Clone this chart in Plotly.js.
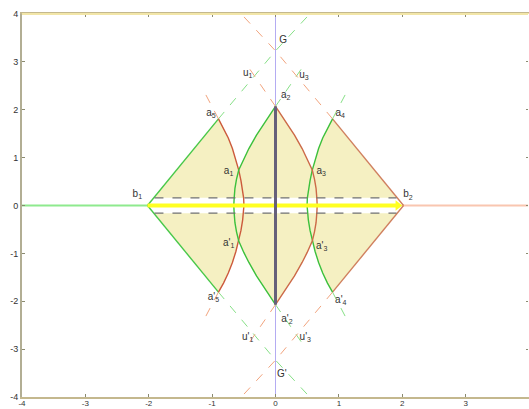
<!DOCTYPE html>
<html><head><meta charset="utf-8">
<script src="https://cdn.plot.ly/plotly-3.0.1.min.js"></script>
<style>html,body{margin:0;padding:0;background:#fff}#chart{width:529px;height:409px}</style>
</head><body><div id="chart"></div>
<script>
// ---- data ----
const bandY = 0.16;                 // half-height of the dashed band
const bandX = [-1.91, 1.91];        // dashed band extent

// left region, right edge (red arc), top to bottom
const arcLeftX = [-0.90,-0.82,-0.745,-0.68,-0.625,-0.58,-0.545,-0.518,-0.503,-0.498,-0.503,-0.518,-0.545,-0.58,-0.625,-0.68,-0.745,-0.82,-0.90];
const arcLeftY = [1.81,1.62,1.41,1.19,0.96,0.74,0.52,0.30,0.16,0,-0.16,-0.30,-0.52,-0.74,-0.96,-1.19,-1.41,-1.62,-1.81];
// right region, left edge (green arc)
const arcRightX = [0.90,0.82,0.745,0.68,0.625,0.58,0.545,0.518,0.503,0.498,0.503,0.518,0.545,0.58,0.625,0.68,0.745,0.82,0.90];
const arcRightY = [1.81,1.62,1.41,1.19,0.96,0.74,0.52,0.30,0.16,0,-0.16,-0.30,-0.52,-0.74,-0.96,-1.19,-1.41,-1.62,-1.81];
// middle region, left edge (green arc)
const arcMidLX = [0,-0.15,-0.30,-0.42,-0.50,-0.58,-0.615,-0.64,-0.652,-0.658,-0.652,-0.64,-0.615,-0.58,-0.50,-0.42,-0.30,-0.15,0];
const arcMidLY = [2.07,1.78,1.47,1.19,0.98,0.74,0.55,0.36,0.16,0,-0.16,-0.36,-0.55,-0.74,-0.98,-1.19,-1.47,-1.78,-2.07];
// middle region, right edge (red arc)
const arcMidRX = [0,0.15,0.30,0.42,0.50,0.58,0.615,0.64,0.652,0.658,0.652,0.64,0.615,0.58,0.50,0.42,0.30,0.15,0];
const arcMidRY = [2.07,1.78,1.47,1.19,0.98,0.74,0.55,0.36,0.16,0,-0.16,-0.36,-0.55,-0.74,-0.98,-1.19,-1.47,-1.78,-2.07];

// straight edges
const greenEdgeX = [-2.02,-0.90,null,-2.02,-0.90];
const greenEdgeY = [0,1.81,null,0,-1.81];
const redEdgeX = [2.02,0.90,null,2.02,0.90];
const redEdgeY = [0,1.81,null,0,-1.81];

// dashed construction lines
const greenDashX = [-0.90,0,0.54,null,-0.90,0,0.54,null,0,0.48,null,0,0.48,null,0.90,1.15,null,0.90,1.15];
const greenDashY = [1.81,3.23,4,null,-1.81,-3.23,-4,null,2.07,2.99,null,-2.07,-2.99,null,1.81,2.44,null,-1.81,-2.44];
const redDashX = [0.90,0,-0.54,null,0.90,0,-0.54,null,0,-0.48,null,0,-0.48,null,-0.90,-1.15,null,-0.90,-1.15];
const redDashY = [1.81,3.23,4,null,-1.81,-3.23,-4,null,2.07,2.99,null,-2.07,-2.99,null,1.81,2.44,null,-1.81,-2.44];

// axis lines
const axisGreenX = [-4,-2.02], axisGreenY = [0,0];
const axisRedX = [2.0,4], axisRedY = [0,0];
const beamX = [-2.02,1.93], beamY = [0,0];
const vertX = [0,0], vertY = [-4,4];
const thickX = [0,0], thickY = [-2.07,2.07];

// labels
const labelText = ['G','u<sub>1</sub>','u<sub>3</sub>','a<sub>2</sub>','a<sub>5</sub>','a<sub>4</sub>','a<sub>1</sub>','a<sub>3</sub>','b<sub>1</sub>','b<sub>2</sub>',
  "a'<sub>1</sub>","a'<sub>3</sub>","a'<sub>5</sub>","a'<sub>4</sub>","a'<sub>2</sub>","u'<sub>1</sub>","u'<sub>3</sub>","G'"];
const labelX = [0.12,-0.44,0.45,0.16,-1.02,1.02,-0.74,0.72,-2.18,2.09, -0.74,0.73,-0.98,1.03,0.18,-0.44,0.47,0.10];
const labelY = [3.45,2.76,2.72,2.30,1.92,1.92,0.71,0.72,0.24,0.22, -0.80,-0.86,-1.92,-1.98,-2.38,-2.76,-2.76,-3.52];

// ---- build fills from arcs ----
function part(xs, ys, upper){
  const px=[],py=[];
  for(let i=0;i<xs.length;i++){ if(upper ? ys[i]>=bandY-1e-9 : ys[i]<=-bandY+1e-9){px.push(xs[i]);py.push(ys[i]);} }
  return [px,py];
}
const fills=[];
[true,false].forEach(up=>{
  const s = up?1:-1;
  let [lx,ly]=part(arcLeftX,arcLeftY,up);
  fills.push({x:[bandX[0],...lx,bandX[0]], y:[s*bandY,...ly,s*bandY]});
  let [rx,ry]=part(arcRightX,arcRightY,up);
  fills.push({x:[bandX[1],...rx,bandX[1]], y:[s*bandY,...ry,s*bandY]});
  let [mlx,mly]=part(arcMidLX,arcMidLY,up);
  let [mrx,mry]=part(arcMidRX,arcMidRY,up);
  fills.push({x:[...mlx.slice().reverse(),...mrx], y:[...mly.slice().reverse(),...mry]});
});

const FILL='#f5f0c2';
const traces=[];
fills.forEach(f=>traces.push({x:f.x,y:f.y,mode:'lines',fill:'toself',fillcolor:FILL,line:{width:0},hoverinfo:'skip'}));
const L=(x,y,color,width,dash)=>({x,y,mode:'lines',line:{color,width,dash:dash||'solid'},hoverinfo:'skip'});
traces.push(L(vertX,vertY,'#b4acf2',1));
traces.push(L(axisGreenX,axisGreenY,'#8eea8e',2));
traces.push(L(axisRedX,axisRedY,'#f9c6b0',2));
traces.push(L(greenDashX,greenDashY,'#86e086',1,'dash'));
traces.push(L(redDashX,redDashY,'#f2a47e',1,'dash'));
traces.push(L(greenEdgeX,greenEdgeY,'#48c848',1.4));
traces.push(L(redEdgeX,redEdgeY,'#d0805e',1.4));
traces.push(L(arcLeftX,arcLeftY,'#cc5a3c',1.4));
traces.push(L(arcRightX,arcRightY,'#3cc03c',1.4));
traces.push(L(arcMidLX,arcMidLY,'#3cc03c',1.4));
traces.push(L(arcMidRX,arcMidRY,'#cc6a48',1.4));
traces.push(L(bandX,[bandY,bandY],'#707070',1.2,'dash'));
traces.push(L(bandX,[-bandY,-bandY],'#707070',1.2,'dash'));
traces.push(L(beamX,beamY,'#ffff22',4));
traces.push({x:[beamX[1]],y:[0],mode:'markers',marker:{symbol:'triangle-right',size:9,color:'#ffff22'},hoverinfo:'skip'});
traces.push(L(thickX,thickY,'#66607a',3));
traces.push({x:labelX,y:labelY,mode:'text',text:labelText,textfont:{family:'Liberation Sans, Arial',size:10,color:'#333'},hoverinfo:'skip'});

const ticks=[-4,-3,-2,-1,0,1,2,3,4];
const ax = {range:[-4,4],tickvals:ticks,ticktext:ticks.map(String),ticks:'inside',ticklen:3,tickcolor:'#8a8a70',
  showgrid:false,zeroline:false,showline:true,linecolor:'#b2ae94',linewidth:2,mirror:'ticks',
  tickfont:{family:'Liberation Sans, Arial',size:9,color:'#333'},fixedrange:true};
const layout={
  width:529,height:409,margin:{l:22,r:0,t:14,b:12},showlegend:false,
  paper_bgcolor:'#fff',plot_bgcolor:'#fff',
  xaxis:Object.assign({},ax,{linecolor:'#c4b88e',ticklabelstandoff:-3,tickfont:{family:'Liberation Sans, Arial',size:8,color:'#333'}}),
  yaxis:Object.assign({},ax),
  shapes:[{type:'line',xref:'paper',yref:'paper',x0:0,x1:1,y0:1,y1:1,line:{color:'#f2e6a8',width:2},layer:'above'},
          {type:'line',xref:'paper',yref:'paper',x0:1,x1:1,y0:0,y1:1,line:{color:'#ffffff',width:2},layer:'above'}]
};
Plotly.newPlot('chart',traces,layout,{staticPlot:true,displayModeBar:false});
</script></body></html>
